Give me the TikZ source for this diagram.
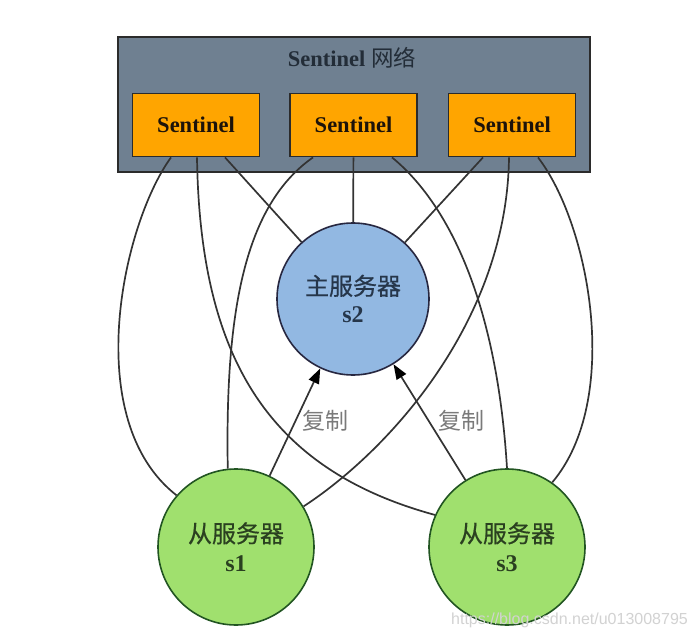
\documentclass[tikz,border=0pt]{standalone}
\usepackage{fontspec}
\setmainfont{Liberation Serif}
\newfontfamily\cjk[FakeBold=0.6]{Noto Sans CJK SC}
\newfontfamily\cjklight{Noto Sans CJK SC}
\newfontfamily\wmfont{Liberation Sans}
\usetikzlibrary{arrows.meta}
\definecolor{netgray}{HTML}{6F8091}
\definecolor{senorange}{HTML}{FFA500}
\definecolor{masterblue}{HTML}{92B8E2}
\definecolor{slavegreen}{HTML}{A0E06E}
\definecolor{edgecol}{HTML}{333333}
\definecolor{bordercol}{HTML}{2B2B2B}
\definecolor{labelgray}{HTML}{7A7A7A}
\definecolor{bluetext}{HTML}{26364A}
\definecolor{greentext}{HTML}{2A4020}
\definecolor{titletext}{HTML}{232D38}
\definecolor{wmcol}{HTML}{D2D2D2}
\tikzset{
  netbox/.style={draw=bordercol, line width=1.6pt, fill=netgray, minimum width=472pt, minimum height=135pt, inner sep=0pt},
  senbox/.style={draw=bordercol, line width=1.8pt, fill=senorange, minimum width=127pt, minimum height=63pt, inner sep=0pt, font=\fontsize{22.5}{26}\selectfont\bfseries, text=black!85!brown},
  mastercirc/.style={circle, draw=bordercol!90!blue, line width=1.6pt, fill=masterblue, minimum size=152pt, inner sep=0pt, align=center, text=bluetext},
  slavecirc/.style={circle, draw=bordercol!80!green, line width=1.6pt, fill=slavegreen, minimum size=156pt, inner sep=0pt, align=center, text=greentext},
  conn/.style={draw=edgecol, line width=1.7pt},
  repl/.style={conn, -{Triangle[length=15pt,width=11pt,color=black]}},
  repllabel/.style={text=labelgray, font=\cjklight\fontsize{23}{26}\selectfont, inner sep=0pt},
  cjkbig/.style={font=\fontsize{24}{29}\selectfont}
}
\begin{document}
\begin{tikzpicture}[x=1pt,y=-1pt]
\useasboundingbox[fill=white] (0,0) rectangle (696,639);
% Sentinel network
\node[netbox] (net) at (354,104.5) {};
\node[text=titletext, inner sep=0pt, font=\fontsize{22.5}{26}\selectfont] (title) at (352,58) {\textbf{Sentinel} {\cjklight 网络}};
\node[senbox] (sen1) at (196,125) {Sentinel};
\node[senbox] (sen2) at (353.5,125) {Sentinel};
\node[senbox] (sen3) at (512,125) {Sentinel};
% servers
\node[mastercirc, cjkbig] (s2) at (353,299) {{\cjk 主服务器}\\[-1pt]\textbf{s2}};
\node[slavecirc, cjkbig] (s1) at (236,547) {{\cjk 从服务器}\\[0pt]\textbf{s1}};
\node[slavecirc, cjkbig] (s3) at (507,547) {{\cjk 从服务器}\\[0pt]\textbf{s3}};
% sentinel 1 connections
\draw[conn] ([xshift=-25pt]sen1.south) .. controls (122,225) and (80,420) .. (s1.139);
\draw[conn] ([xshift=1pt]sen1.south) .. controls (200,360) and (270,470) .. (s3.156);
\draw[conn] ([xshift=29pt]sen1.south) -- (s2);
% sentinel 2 connections
\draw[conn] ([xshift=-40.5pt]sen2.south) .. controls (245,205) and (225,310) .. (s1.96.5);
\draw[conn] (sen2) -- (s2);
\draw[conn] ([xshift=38.5pt]sen2.south) .. controls (450,205) and (497,305) .. (s3.90);
% sentinel 3 connections
\draw[conn] ([xshift=-29pt]sen3.south) -- (s2);
\draw[conn] ([xshift=-3pt]sen3.south) .. controls (507,320) and (390,450) .. (s1.31);
\draw[conn] ([xshift=26pt]sen3.south) .. controls (590,225) and (622,400) .. (s3.55);
% replication
\draw[repl] (s1) -- (s2);
\draw[repl] (s3) -- (s2);
\node[repllabel] (rl1) at (325,421) {复制};
\node[repllabel] (rl2) at (461,421) {复制};
% watermark
\node[text=wmcol, inner sep=0pt, font=\wmfont\fontsize{16}{18}\selectfont] (wm) at (569.5,620) {https://blog.csdn.net/u013008795};
\end{tikzpicture}
\end{document}
